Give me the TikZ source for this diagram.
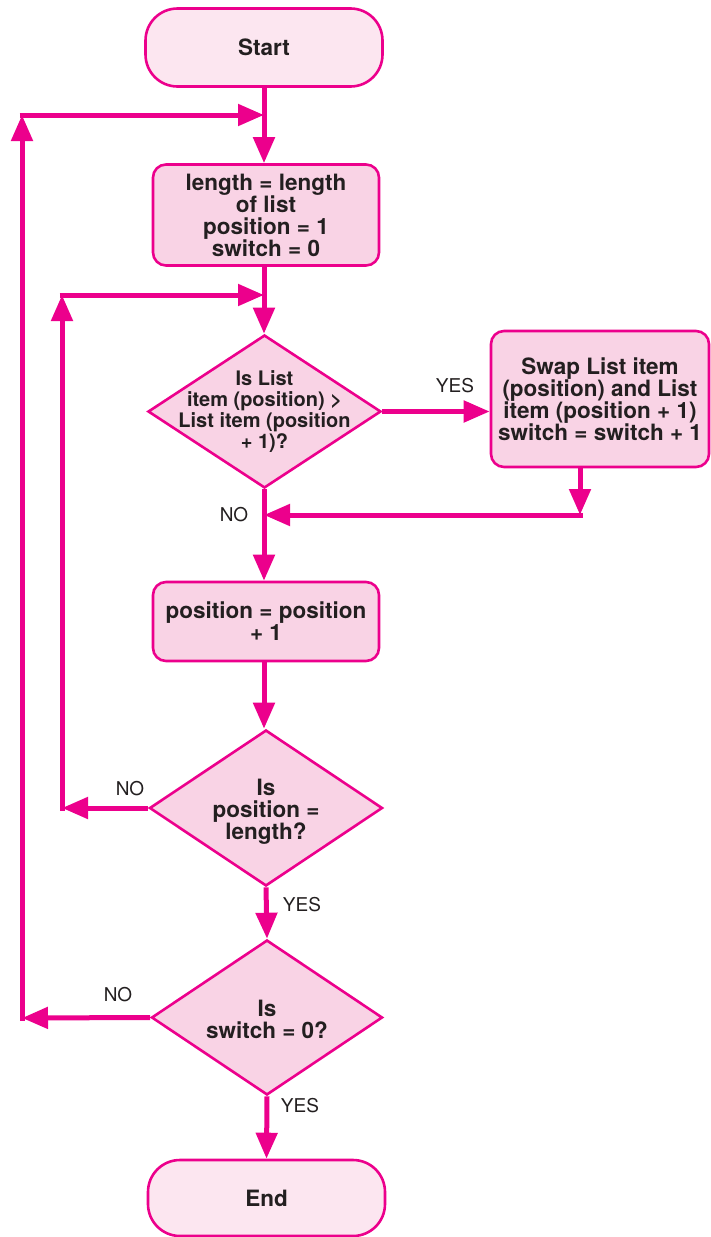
\documentclass[tikz,border=0pt]{standalone}
\usepackage{fontspec}
\setmainfont{TeX Gyre Heros}
\usetikzlibrary{shapes.geometric,arrows.meta}

\definecolor{flowmag}{HTML}{EC008C}
\definecolor{termfill}{HTML}{FCE6F0}
\definecolor{boxfill}{HTML}{F9D3E5}
\definecolor{ink}{HTML}{231F20}

\tikzset{
  base/.style={draw=flowmag, line width=2.6pt, text=ink, inner sep=0pt,
    font=\bfseries\fontsize{22.5}{22}\selectfont, align=center},
  terminal/.style={base, rectangle, rounded corners=32pt, fill=termfill},
  process/.style={base, rectangle, rounded corners=13pt, fill=boxfill},
  decision/.style={base, diamond, fill=boxfill},
  conn/.style={draw=flowmag, line width=5pt, -{Triangle[length=26pt,width=21pt]}},
  answer/.style={text=ink, font=\fontsize{19}{22}\selectfont, inner sep=0pt},
  dlabel/.style={align=center, text=ink, font=\bfseries\fontsize{22.5}{22}\selectfont}
}

\begin{document}
\begin{tikzpicture}[x=1pt, y=-1pt]
\useasboundingbox (0,0) rectangle (711,1237);

% flowchart shapes
\node[terminal, minimum width=237pt, minimum height=78pt] (start) at (264,47.5) {Start};
\node[process, minimum width=226pt, minimum height=101pt] (init) at (266,215)
  {length = length\\of list\\position = 1\\switch = 0};
\node[decision, minimum width=233pt, minimum height=153pt,
  label={[dlabel, font=\bfseries\fontsize{20}{21}\selectfont]center:Is List\\item (position) >\\List item (position\\+ 1)?}]
  (cmp) at (264.5,411.5) {};
\node[process, minimum width=218pt, minimum height=136pt] (swap) at (600,399)
  {Swap List item\\(position) and List\\item (position + 1)\\switch = switch + 1};
\node[process, minimum width=226pt, minimum height=79pt] (inc) at (266,621.5)
  {position = position\\+ 1};
\node[decision, minimum width=233pt, minimum height=156pt,
  label={[dlabel, yshift=-4pt]center:Is\\position =\\length?}]
  (atend) at (266,808) {};
\node[decision, minimum width=231pt, minimum height=155pt,
  label={[dlabel, yshift=-2pt]center:Is\\switch = 0?}]
  (sorted) at (267,1017.5) {};
\node[terminal, minimum width=237pt, minimum height=76pt] (stop) at (266.5,1198) {End};

% junction and corner points
\coordinate (jtop) at (264,115);
\coordinate (otop) at (22,115);
\coordinate (obot) at (22,1018);
\coordinate (jmid) at (264,295);
\coordinate (itop) at (62,295);
\coordinate (ibot) at (62,808);
\coordinate (sdrop) at (580,515);
\coordinate (jret) at (264,515);

% main flow
\draw[conn] (start.south -| jtop) -- (init.north -| jtop);
\draw[conn] (init.south -| jtop) -- (cmp.north -| jtop);
\draw[conn] (cmp.south -| jtop) -- (inc.north -| jtop);
\draw[conn] (inc.south -| jtop) -- (atend.north -| jtop);
\draw[conn] (atend.south) -- (sorted.north);
\draw[conn] (sorted.south) -- (stop.north);

% swap branch
\draw[conn] (cmp.east) -- (swap.west |- cmp.east);
\draw[conn] (swap.south -| sdrop) -- (sdrop);
\draw[conn] ([xshift=2.5pt]sdrop) -- (jret);

% inner loop
\draw[conn] (atend.west) -- (ibot);
\draw[conn] ([yshift=-2.5pt]ibot) -- (itop);
\draw[conn] ([xshift=-2.5pt]itop) -- (jmid);

% outer loop
\draw[conn] (sorted.west) -- (obot);
\draw[conn] ([yshift=-2.5pt]obot) -- (otop);
\draw[conn] ([xshift=-2.5pt]otop) -- (jtop);

% branch labels
\node[answer] (yes1) at (455,386) {YES};
\node[answer] (no1) at (234,515) {NO};
\node[answer] (no2) at (130,789) {NO};
\node[answer] (yes2) at (302,905) {YES};
\node[answer] (no3) at (118,995) {NO};
\node[answer] (yes3) at (300,1106) {YES};
\end{tikzpicture}
\end{document}
